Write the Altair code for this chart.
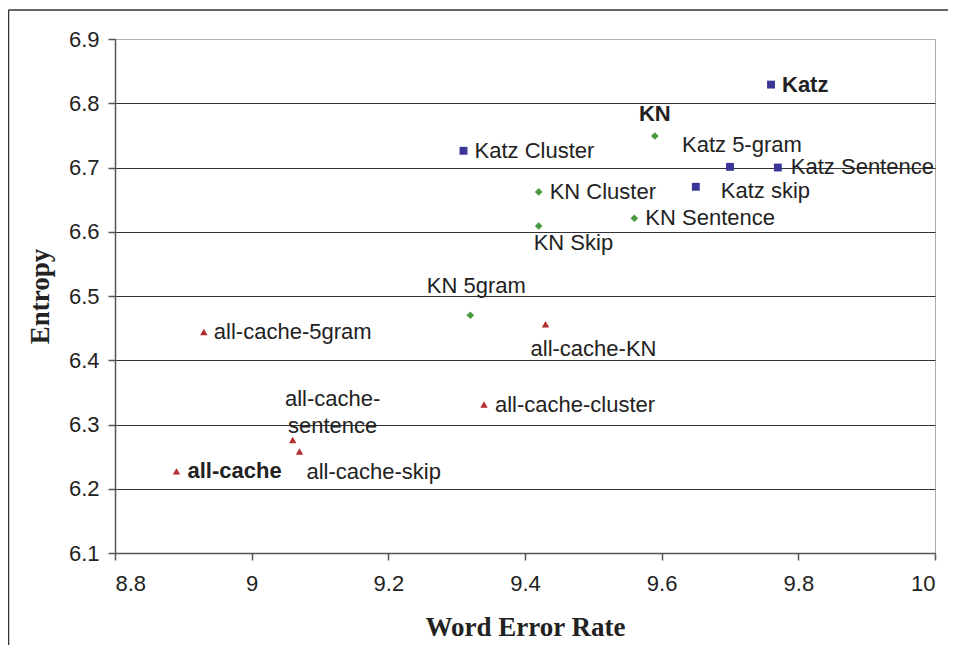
import altair as alt
import pandas as pd

# ---- data ----
labels = ["Katz", "Katz Cluster", "Katz 5-gram", "Katz Sentence", "Katz skip",
          "KN", "KN Cluster", "KN Sentence", "KN Skip", "KN 5gram",
          "all-cache-5gram", "all-cache-KN", "all-cache-cluster",
          "all-cache-\nsentence", "all-cache-skip", "all-cache"]
series = ["Katz"] * 5 + ["KN"] * 5 + ["all-cache"] * 6
wer = [9.76, 9.31, 9.70, 9.77, 9.65,
       9.59, 9.42, 9.56, 9.42, 9.32,
       8.93, 9.43, 9.34, 9.06, 9.07, 8.89]
entropy = [6.829, 6.726, 6.701, 6.700, 6.670,
           6.749, 6.662, 6.621, 6.609, 6.470,
           6.444, 6.456, 6.331, 6.276, 6.258, 6.227]
x_ticks = [8.8, 9.0, 9.2, 9.4, 9.6, 9.8, 10.0]
y_ticks = [6.1, 6.2, 6.3, 6.4, 6.5, 6.6, 6.7, 6.8, 6.9]

# ---- label styling (pixel offsets, alignment, weight) ----
label_style = [
    (11, 0, "left", "bold"),
    (11, 0, "left", "normal"),
    (-48, -22, "left", "normal"),
    (13, -1, "left", "normal"),
    (25, 4, "left", "normal"),
    (0, -22, "center", "bold"),
    (11, 0, "left", "normal"),
    (11, 0, "left", "normal"),
    (-5, 17, "left", "normal"),
    (6, -29, "center", "normal"),
    (10, 0, "left", "normal"),
    (48, 25, "center", "normal"),
    (11, 0, "left", "normal"),
    (40, -41, "center", "normal"),
    (7, 21, "left", "normal"),
    (11, 0, "left", "bold"),
]

df = pd.DataFrame({"idx": list(range(len(labels))), "label": labels,
                   "series": series, "wer": wer, "entropy": entropy})

W, H = 820, 514
PL, PT, PR, PB = 107, 31, 13, 92

x_enc = alt.X("wer:Q", scale=alt.Scale(domain=[8.8, 10.0], nice=False, zero=False),
              axis=alt.Axis(values=x_ticks, format="~g", title="Word Error Rate",
                            grid=False, labelPadding=13, titlePadding=20))
y_enc = alt.Y("entropy:Q", scale=alt.Scale(domain=[6.1, 6.9], nice=False, zero=False),
              axis=alt.Axis(values=y_ticks, format=".1f", title="Entropy",
                            grid=True, labelPadding=9, titlePadding=14,
                            gridColor={"condition": {"test": "datum.value > 6.85 || datum.value < 6.15",
                                                     "value": "#b8b0b0"},
                                       "value": "#333333"}))

series_domain = ["Katz", "KN", "all-cache"]
points = alt.Chart(df).mark_point(filled=True, opacity=1).encode(
    x=x_enc, y=y_enc,
    shape=alt.Shape("series:N", scale=alt.Scale(domain=series_domain,
                                                range=["square", "diamond", "triangle-up"]),
                    legend=None),
    color=alt.Color("series:N", scale=alt.Scale(domain=series_domain,
                                                range=["#3a3596", "#4a9a40", "#b22e2e"]),
                    legend=None),
    size=alt.Size("series:N", scale=alt.Scale(domain=series_domain, range=[62, 55, 85]),
                  legend=None),
)

text_layers = []
for i, (dx, dy, align, weight) in enumerate(label_style):
    t = alt.Chart(df).transform_filter(alt.datum.idx == i).mark_text(
        dx=dx, dy=dy, align=align, baseline="middle", fontSize=22,
        font="Liberation Sans", fontWeight=weight, color="#222222",
        lineBreak="\n", lineHeight=27,
    ).encode(x="wer:Q", y="entropy:Q", text="label:N")
    text_layers.append(t)

frame_df = pd.DataFrame({"k": [0]})
frame_top = alt.Chart(frame_df).mark_rule(color="#333333", strokeWidth=1.5).encode(
    x=alt.value(-106.5), x2=alt.value(W + PR + 5), y=alt.value(-29))
frame_left = alt.Chart(frame_df).mark_rule(color="#333333", strokeWidth=1.5).encode(
    x=alt.value(-106.5), y=alt.value(-29), y2=alt.value(H + PB + 5))

chart = alt.layer(points, *text_layers, frame_top, frame_left).properties(
    width=W, height=H,
    padding={"left": PL, "top": PT, "right": PR, "bottom": PB},
    autosize=alt.AutoSizeParams(type="none"),
    background="white",
).configure_view(
    stroke="#aaaaaa", strokeWidth=1,
).configure_axis(
    labelFont="Liberation Sans", labelFontSize=22, labelColor="#222222",
    titleFont="Liberation Serif", titleFontSize=27, titleFontWeight="bold",
    titleColor="#222222",
    domainColor="#555555", domainWidth=1.5,
    tickColor="#555555", tickWidth=1.5, tickSize=7,
    gridWidth=1,
)

chart.save("out.html", embed_options={"renderer": "svg", "actions": False})
